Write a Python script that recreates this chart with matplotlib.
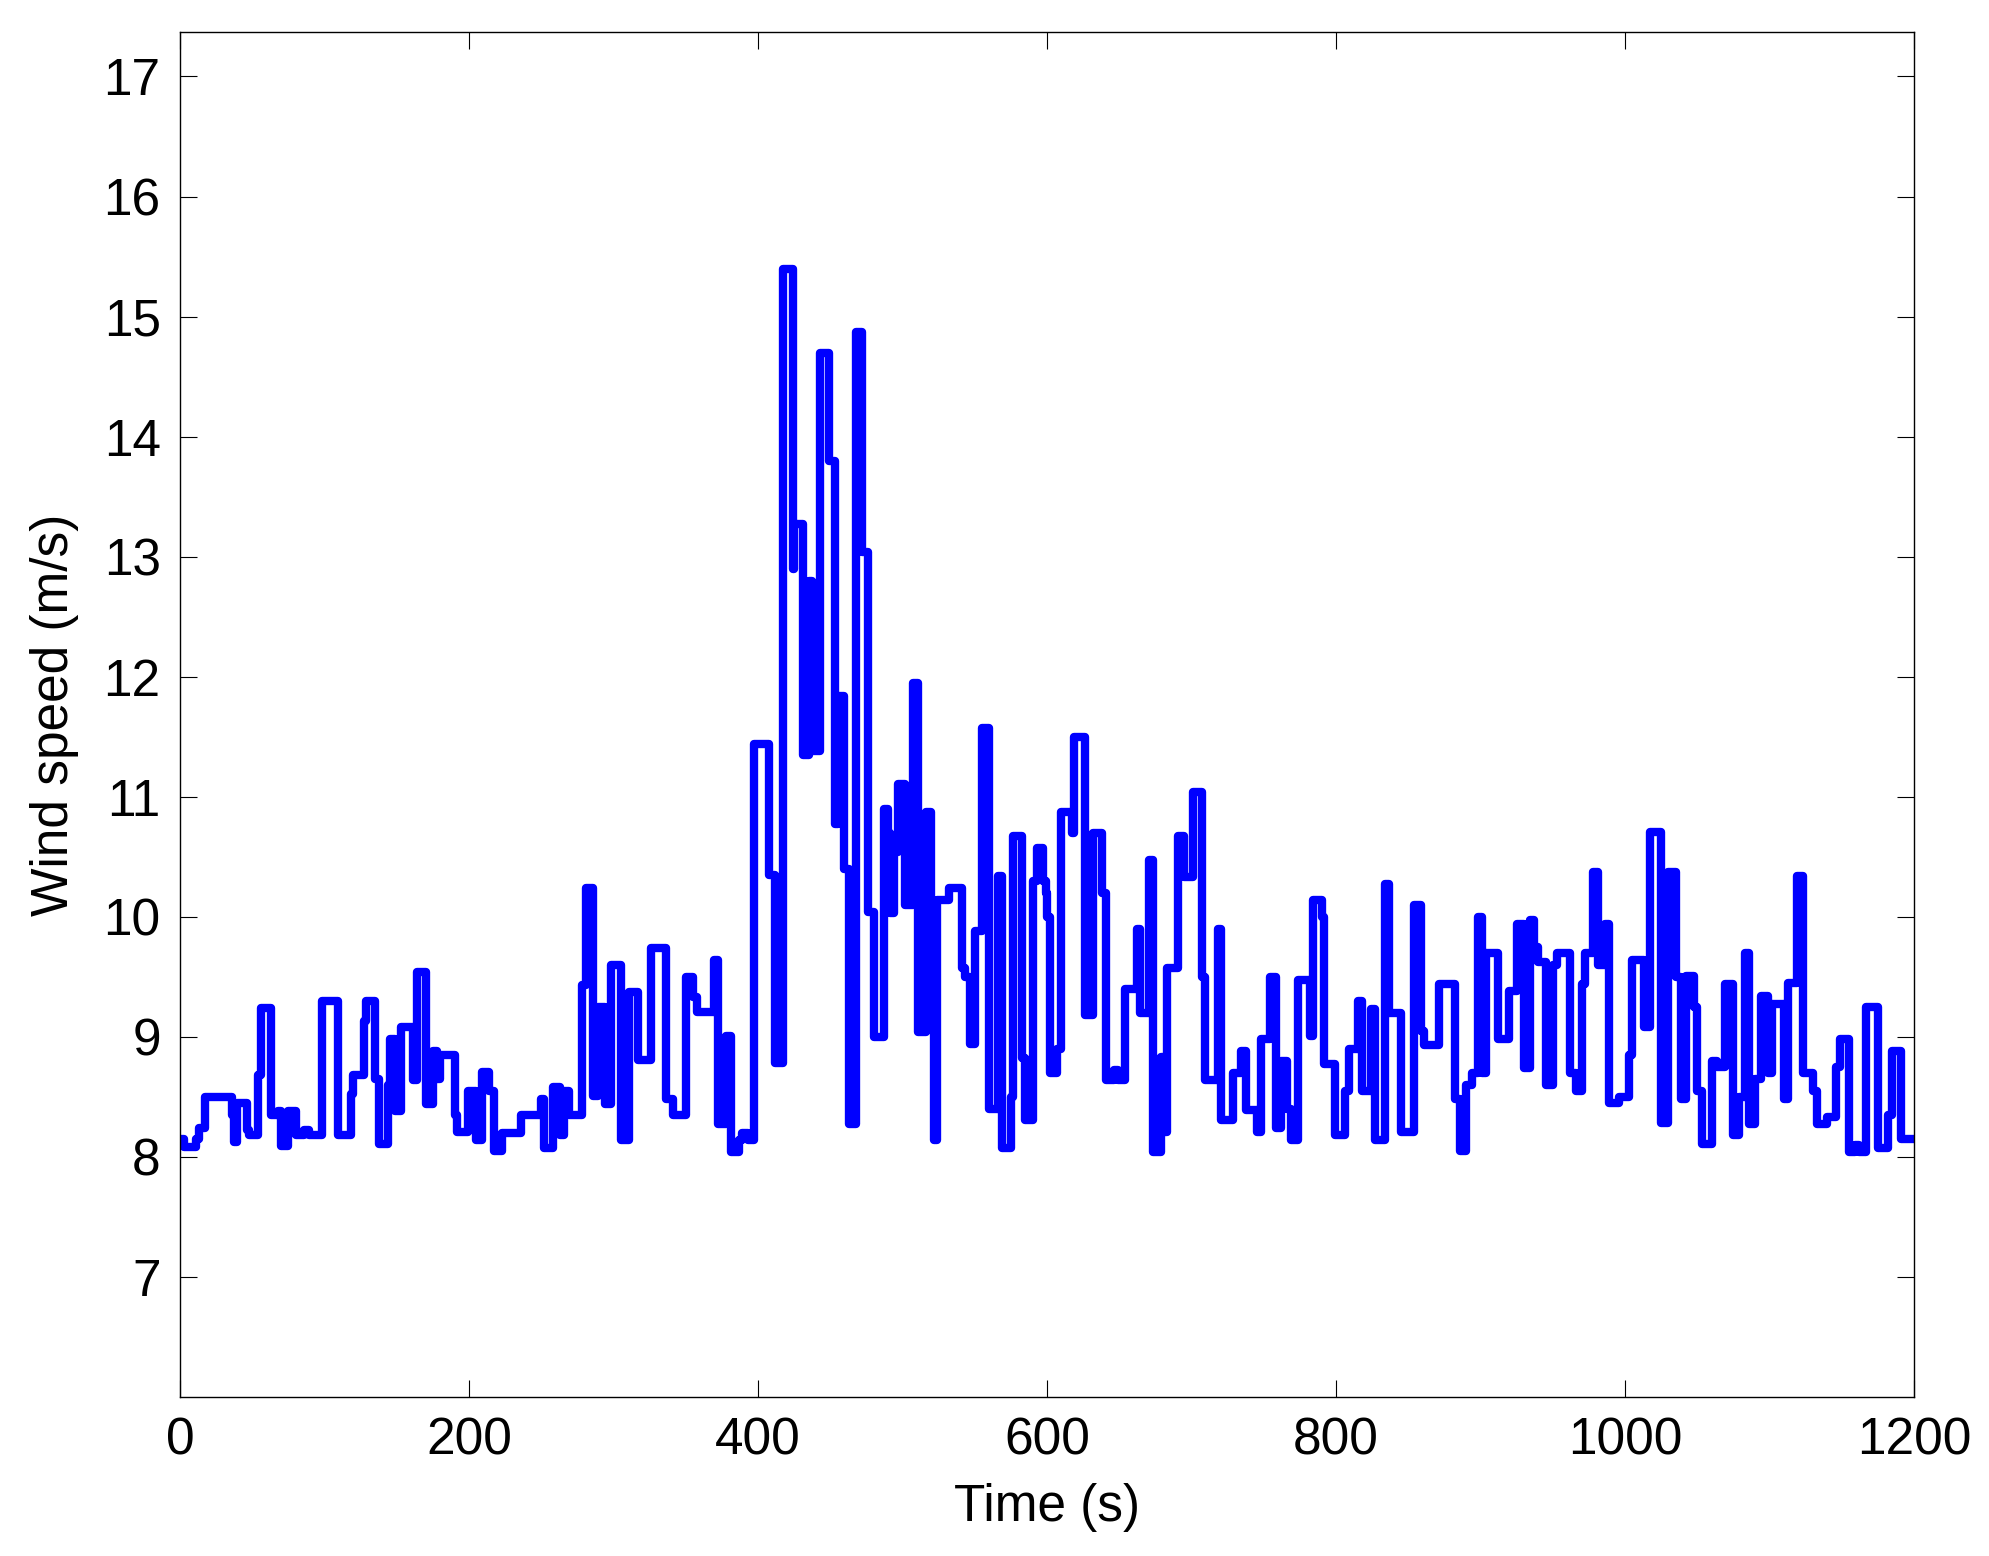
import matplotlib
matplotlib.use("Agg")
import matplotlib.pyplot as plt

# Step breakpoints (time in s, wind speed in m/s), value holds until next time
time_s = [0, 3, 11, 13, 17, 36, 37.5, 39.5, 46, 48, 54, 56, 63, 68, 70, 75, 80, 86, 89, 98,
          109, 118, 120, 127, 129, 135, 137.5, 144, 145.5,
          149, 153, 161, 164, 170, 175, 178, 180, 190, 191.5, 199, 205, 209, 214, 217, 223,
          236, 250, 252, 258, 263, 266, 269, 278, 281, 286, 289, 294, 298.5,
          305, 311, 317, 326, 336, 341, 350, 355, 358, 369.5, 372, 378, 381, 387, 389, 393,
          397.5, 407.5, 412, 417.5, 424, 425, 431, 435, 437, 443, 449, 453,
          455, 459.5, 463, 467.5, 472, 476, 480, 487, 490, 491, 494, 497, 502, 507, 511, 516,
          520, 522, 524, 532, 541, 543, 547, 550, 555, 560, 566, 568.5, 575, 576.5, 583, 585,
          590, 593, 597, 599, 600, 602,
          607, 610, 617, 618.5, 626.5, 632, 638, 641, 646, 649, 654, 662, 664, 670.5, 673.5,
          679, 681, 683, 690.5, 695, 701, 707, 709, 718, 720.5, 729, 734, 738, 745, 748, 754,
          758.5, 762, 766, 769, 774, 782, 784, 790, 792, 799, 806, 809, 815, 818, 824, 827,
          834, 837, 845, 854, 859, 861, 871, 882, 886, 890, 894, 898, 901, 904,
          912, 920, 925, 930, 934, 937, 940, 945, 950, 953, 962, 966, 970, 972, 978, 981, 986,
          989, 996, 1003, 1005, 1013, 1017, 1025, 1030, 1035, 1039, 1042, 1048, 1050, 1053, 1060,
          1064, 1069, 1075, 1079, 1083, 1086, 1090, 1094, 1099, 1102, 1110, 1113, 1119, 1123,
          1130, 1133, 1140, 1146, 1149, 1155, 1159, 1162, 1167, 1175, 1182, 1185, 1191, 1200]
wind_speed = [8.15, 8.08, 8.15, 8.24, 8.5, 8.35, 8.12, 8.45, 8.22, 8.18, 8.68, 9.24, 8.35, 8.38, 8.09, 8.38, 8.18, 8.22, 8.18, 9.3,
              8.18, 8.52, 8.68, 9.13, 9.3, 8.65, 8.11, 8.6, 8.98,
              8.38, 9.08, 8.64, 9.54, 8.44, 8.88, 8.65, 8.85, 8.35, 8.21, 8.55, 8.14, 8.71, 8.55, 8.05, 8.2,
              8.35, 8.48, 8.07, 8.58, 8.18, 8.55, 8.35, 9.43, 10.24, 8.51, 9.25, 8.44, 9.6,
              8.14, 9.37, 8.81, 9.74, 8.48, 8.35, 9.5, 9.33, 9.21, 9.64, 8.27, 9.01, 8.04, 8.14, 8.2, 8.14,
              11.44, 10.35, 8.78, 15.4, 12.9, 13.27, 11.35, 12.8, 11.38, 14.7, 13.8, 10.77,
              11.84, 10.4, 8.27, 14.87, 13.04, 10.04, 9.0, 10.9, 10.7, 10.03, 10.54, 11.11, 10.1, 11.95, 9.04, 10.87,
              9.9, 8.14, 10.14, 10.24, 9.57, 9.5, 8.94, 9.88, 11.57, 8.4, 10.34, 8.07, 8.5, 10.67, 8.82, 8.31,
              10.3, 10.57, 10.3, 10.2, 10.0, 8.7,
              8.9, 10.87, 10.7, 11.5, 9.18, 10.7, 10.2, 8.64, 8.72, 8.64, 9.4, 9.9, 9.2, 10.47, 8.04,
              8.83, 8.21, 9.57, 10.67, 10.33, 11.04, 9.5, 8.64, 9.9, 8.31, 8.7, 8.88, 8.39, 8.21, 8.98, 9.5,
              8.24, 8.8, 8.4, 8.14, 9.47, 9.01, 10.14, 10.0, 8.77, 8.18, 8.55, 8.9, 9.3, 8.55, 9.23, 8.14,
              10.27, 9.2, 8.21, 10.1, 9.05, 8.93, 9.44, 8.48, 8.05, 8.6, 8.7, 10.0, 8.7, 9.7,
              8.98, 9.38, 9.94, 8.74, 9.97, 9.75, 9.62, 8.6, 9.6, 9.7, 8.7, 8.55, 9.44, 9.7, 10.37, 9.6, 9.94,
              8.45, 8.5, 8.85, 9.64, 9.08, 10.71, 8.28, 10.37, 9.5, 8.48, 9.51, 9.25, 8.55, 8.11, 8.8,
              8.75, 9.44, 8.18, 8.5, 9.7, 8.27, 8.65, 9.34, 8.7, 9.27, 8.48, 9.45, 10.34, 8.7,
              8.55, 8.27, 8.33, 8.75, 8.98, 8.04, 8.1, 8.04, 9.25, 8.07, 8.35, 8.88, 8.15, 8.15]

x_ticks = [0, 200, 400, 600, 800, 1000, 1200]
y_ticks = [7, 8, 9, 10, 11, 12, 13, 14, 15, 16, 17]

plt.rcParams['font.family'] = ['Liberation Sans', 'DejaVu Sans']

fig = plt.figure(figsize=(19.9, 15.56), dpi=100)
ax = fig.add_axes([0.0905, 0.1022, 0.9618 - 0.0905, 0.9794 - 0.1022])

ax.step(time_s, wind_speed, where='post', color='#0000ff', linewidth=6.0,
        solid_joinstyle='round', solid_capstyle='round')

ax.set_xlim(0, 1200)
ax.set_ylim(6.0, 17.37)
ax.set_xticks(x_ticks)
ax.set_yticks(y_ticks)
ax.tick_params(direction='in', length=12, width=0.8, top=True, right=True,
               labelsize=37, pad=14)
for s in ax.spines.values():
    s.set_linewidth(1.0)

ax.set_xlabel('Time (s)', fontsize=37, labelpad=13)
ax.set_ylabel('Wind speed (m/s)', fontsize=37, labelpad=18)

fig.savefig('out.png', dpi=100)
